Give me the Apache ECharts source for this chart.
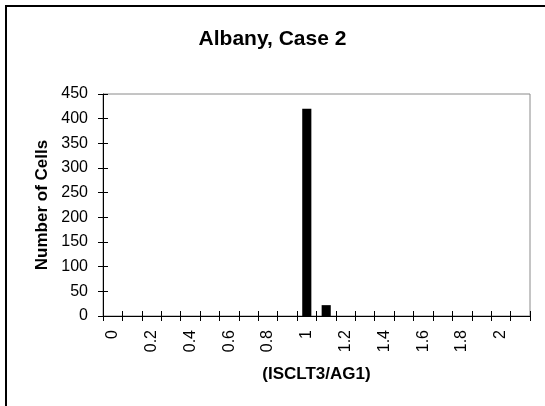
<!DOCTYPE html>
<html>
<head>
<meta charset="utf-8">
<script src="https://cdn.jsdelivr.net/npm/echarts@6/dist/echarts.min.js"></script>
<style>
  html, body { margin: 0; padding: 0; background: #fff; overflow: hidden; }
  #frame { position: absolute; left: 5px; top: 5px; width: 700px; height: 600px; border: 2px solid #000; box-sizing: border-box; }
  #chart { position: absolute; left: 0; top: 0; width: 545px; height: 406px; }
</style>
</head>
<body>
<div id="frame"></div>
<div id="chart"></div>
<script>
  // ratio bins along x, counts per bin
  const categories = ['0', '0.1', '0.2', '0.3', '0.4', '0.5', '0.6', '0.7', '0.8', '0.9', '1',
    '1.1', '1.2', '1.3', '1.4', '1.5', '1.6', '1.7', '1.8', '1.9', '2', '2.1'];
  const cellCounts = [0, 0, 0, 0, 0, 0, 0, 0, 0, 0, 420, 22, 0, 0, 0, 0, 0, 0, 0, 0, 0, 0];
  const yTicks = { min: 0, max: 450, interval: 50 };

  const font = 'Liberation Sans, Arial, sans-serif';
  const chart = echarts.init(document.getElementById('chart'), null, { renderer: 'canvas' });

  chart.setOption({
    backgroundColor: 'transparent',
    animation: false,
    title: {
      text: 'Albany, Case 2',
      left: 'center',
      top: 24,
      padding: [5, 0, 5, 12],
      textStyle: { fontFamily: font, fontSize: 21, fontWeight: 'bold', color: '#000' }
    },
    grid: {
      left: 103, right: 15, top: 94, bottom: 90,
      show: true, borderColor: '#8a8a8a', borderWidth: 1, backgroundColor: 'transparent'
    },
    xAxis: [
      {
        type: 'category',
        data: categories,
        position: 'bottom',
        boundaryGap: true,
        name: '(ISCLT3/AG1)',
        nameLocation: 'middle',
        nameGap: 50,
        nameTextStyle: { fontFamily: font, fontSize: 17, fontWeight: 'bold', color: '#000' },
        axisLine: { show: true, lineStyle: { color: '#000', width: 1 } },
        axisTick: { show: true, interval: 0, length: 5, lineStyle: { color: '#000' } },
        axisLabel: { interval: 1, rotate: 90, margin: 14, fontFamily: font, fontSize: 16, color: '#000' },
        splitLine: { show: false }
      },
      {
        type: 'category',
        data: categories,
        position: 'bottom',
        boundaryGap: true,
        axisLine: { show: false },
        axisTick: { show: true, inside: true, interval: 0, length: 5, lineStyle: { color: '#000' } },
        axisLabel: { show: false },
        splitLine: { show: false }
      }
    ],
    yAxis: [
      {
        type: 'value',
        position: 'left',
        min: yTicks.min, max: yTicks.max, interval: yTicks.interval,
        name: 'Number of Cells',
        nameLocation: 'middle',
        nameGap: 50,
        nameTextStyle: { fontFamily: font, fontSize: 17, fontWeight: 'bold', color: '#000' },
        axisLine: { show: true, lineStyle: { color: '#000', width: 1 } },
        axisTick: { show: true, length: 5, lineStyle: { color: '#000' } },
        axisLabel: { margin: 15, fontFamily: font, fontSize: 16, color: '#000' },
        splitLine: { show: false }
      },
      {
        type: 'value',
        position: 'left',
        min: yTicks.min, max: yTicks.max, interval: yTicks.interval,
        axisLine: { show: false },
        axisTick: { show: true, inside: true, length: 5, lineStyle: { color: '#000' } },
        axisLabel: { show: false },
        splitLine: { show: false }
      }
    ],
    series: [
      {
        type: 'bar',
        xAxisIndex: 0,
        yAxisIndex: 0,
        data: cellCounts,
        barWidth: '47%',
        itemStyle: { color: '#000' }
      }
    ]
  });
</script>
</body>
</html>
